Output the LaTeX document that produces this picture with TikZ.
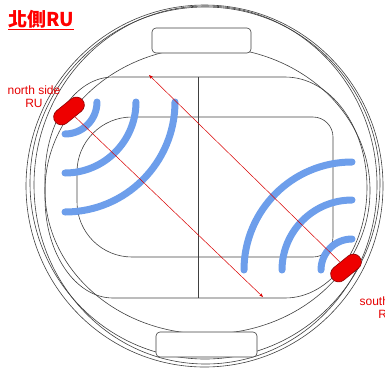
\documentclass[tikz,border=0pt]{standalone}
\usepackage{fontspec}
\setmainfont{Liberation Sans}
\newfontfamily\cjk{Noto Sans CJK TC}
\usetikzlibrary{shapes.misc,arrows.meta}

\definecolor{wavecol}{HTML}{6D9EEB}
\definecolor{rufill}{HTML}{EE0000}

\tikzset{
  ring/.style={draw=black!75, line width=0.6pt},
  wave/.style={draw=wavecol, line width=7pt, line cap=round},
  ru/.style={rounded rectangle, fill=rufill, draw=red!55!black, line width=0.6pt,
    minimum width=35pt, minimum height=16pt, inner sep=0pt, rotate=39},
  ray/.style={draw=red!85!black, line width=0.5pt, -{Stealth[length=4pt,width=3pt]}},
  lbl/.style={text=red!90!black, font=\fontsize{12}{13}\selectfont, align=center}
}

\begin{document}
\begin{tikzpicture}[x=1pt,y=1pt]
  \useasboundingbox (0,0) rectangle (385,-370);
  \clip (0,0) rectangle (385,-370);

  % outer rim
  \draw[ring] (204.5,-186) ellipse [x radius=178.5, y radius=181];
  \draw[ring] (205,-183) ellipse [x radius=175, y radius=176];
  \draw[ring] (205.5,-185) ellipse [x radius=171.5, y radius=179];
  \draw[ring] (207.5,-190.5) ellipse [x radius=162.5, y radius=143.5];

  % end boxes
  \draw[ring, fill=white, rounded corners=4pt] (152,-28) rectangle (251,-53);
  \draw[ring, fill=white, rounded corners=4pt] (156,-332) rectangle (257,-357);

  % track, outer and inner
  \draw[ring] (113,-77) -- (285,-77)
    arc [start angle=90, end angle=-90, x radius=82, y radius=110.5]
    -- (113,-298)
    arc [start angle=270, end angle=180, x radius=68, y radius=100]
    -- (45,-177)
    arc [start angle=180, end angle=90, x radius=68, y radius=100] -- cycle;
  \draw[ring] (132,-117) -- (313,-117) arc (90:0:20) -- (333,-237) arc (0:-90:20)
    -- (132,-257) arc (270:180:55) -- (77,-172) arc (180:90:55) -- cycle;
  \draw[ring] (198,-77) -- (198,-298);

  % radio waves
  \foreach \r in {32,71,110}
    \draw[wave] (65+\r,-102) arc (0:-90:\r);
  \foreach \r in {31,70,108}
    \draw[wave] (352,-270+\r) arc (90:180:\r);

  % radio units
  \node[ru] (northru) at (69,-111) {};
  \node[ru] (southru) at (346,-268) {};
  \coordinate (farsouth) at (263,-297);
  \coordinate (farnorth) at (149,-75);
  \draw[ray] (northru) -- (farsouth);
  \draw[ray] (southru) -- (farnorth);

  \node[lbl] (northlbl) at (34,-97) {north side\\RU};
  \node[lbl] (southlbl) at (387,-308) {south side\\RU};
  \node[anchor=west, text=red, inner sep=0pt] (title) at (8,-20)
    {\fontsize{19}{20}\selectfont\cjk\bfseries\underline{北側RU}};
\end{tikzpicture}
\end{document}
